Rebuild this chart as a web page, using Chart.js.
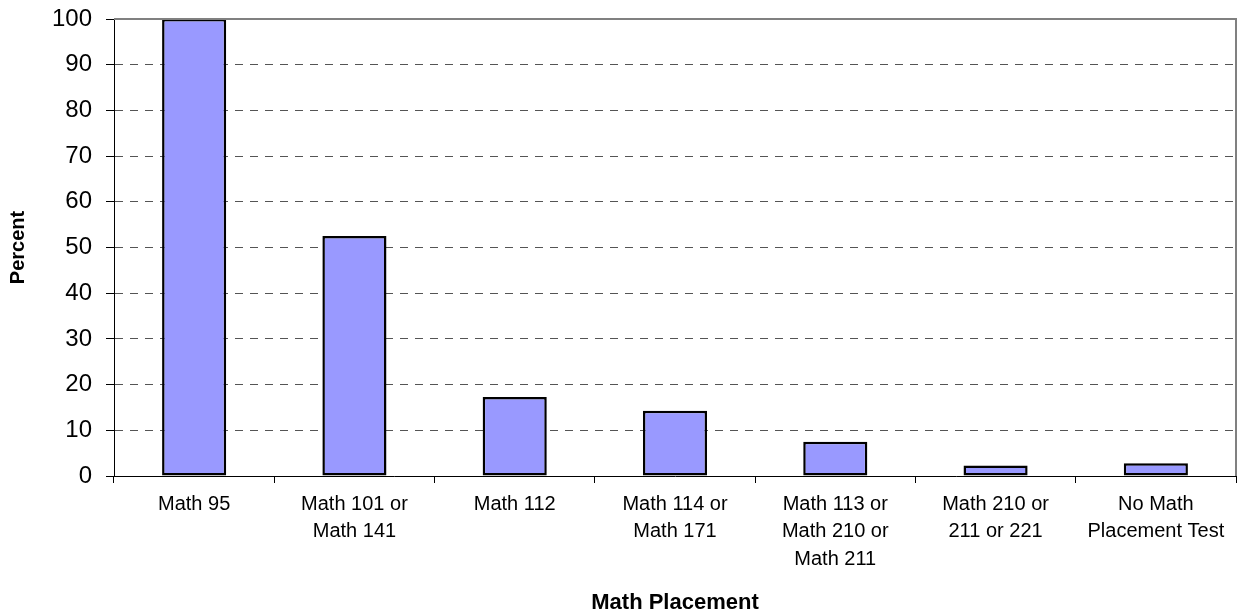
<!DOCTYPE html>
<html>
<head>
<meta charset="utf-8">
<script src="https://cdn.jsdelivr.net/npm/chart.js@4.4.1/dist/chart.umd.min.js"></script>
<style>
  html, body { margin: 0; padding: 0; background: #ffffff; }
  #wrap { width: 1243px; height: 616px; position: relative; }
</style>
</head>
<body>
<div id="wrap"><canvas id="c" width="1243" height="616"></canvas></div>
<script>
const categories = [
  ["Math 95"],
  ["Math 101 or", "Math 141"],
  ["Math 112"],
  ["Math 114 or", "Math 171"],
  ["Math 113 or", "Math 210 or", "Math 211"],
  ["Math 210 or", "211 or 221"],
  ["No Math", "Placement Test"]
];
const percentValues = [100, 52.5, 17.3, 14.3, 7.5, 2.3, 2.8];
const yTicks = [0, 10, 20, 30, 40, 50, 60, 70, 80, 90, 100];
const xTitle = "Math Placement";
const yTitle = "Percent";

const FONT = "'Liberation Sans', Arial, Helvetica, sans-serif";

const plotFrame = {
  id: 'plotFrame',
  afterDatasetsDraw(chart) {
    const { ctx, chartArea: a } = chart;
    ctx.save();
    ctx.strokeStyle = '#808080';
    ctx.lineWidth = 2;
    ctx.beginPath();
    ctx.moveTo(a.left, a.top);
    ctx.lineTo(a.right, a.top);
    ctx.lineTo(a.right, a.bottom);
    ctx.stroke();
    ctx.restore();
  }
};

new Chart(document.getElementById('c'), {
  type: 'bar',
  data: {
    labels: categories,
    datasets: [{
      data: percentValues,
      backgroundColor: '#9999FF',
      borderColor: '#000000',
      borderWidth: 2.5,
      borderSkipped: false,
      categoryPercentage: 1.0,
      barPercentage: 0.4
    }]
  },
  options: {
    responsive: false,
    animation: false,
    devicePixelRatio: 1,
    layout: { padding: { top: 19, right: 7, left: 0, bottom: 0 } },
    plugins: {
      legend: { display: false },
      tooltip: { enabled: false }
    },
    scales: {
      x: {
        offset: true,
        afterFit: (s) => { s.height = 140; s.paddingLeft = 0; s.paddingRight = 0; },
        grid: {
          display: true,
          offset: true,
          drawOnChartArea: false,
          drawTicks: true,
          tickLength: 7,
          color: '#000000',
          lineWidth: 1
        },
        border: { display: true, color: '#000000', width: 1 },
        ticks: {
          color: '#000000',
          font: { family: FONT, size: 20, lineHeight: 1.36 },
          padding: 8,
          maxRotation: 0,
          minRotation: 0,
          autoSkip: false
        },
        title: {
          display: true,
          text: xTitle,
          color: '#000000',
          font: { family: FONT, size: 22, weight: 'bold', lineHeight: 1.2 },
          padding: { top: 0, bottom: 0 }
        }
      },
      y: {
        min: 0,
        max: 100,
        afterFit: (s) => { s.width = 114; s.paddingTop = 0; s.paddingBottom = 0; },
        afterBuildTicks: (s) => { s.ticks = yTicks.map(v => ({ value: v })); },
        grid: {
          display: true,
          drawOnChartArea: true,
          drawTicks: true,
          tickLength: 8,
          tickColor: '#000000',
          tickBorderDash: [],
          lineWidth: 1,
          color: (ctx) => (ctx.tick && (ctx.tick.value === 0 || ctx.tick.value === 100)) ? 'rgba(0,0,0,0)' : '#555555'
        },
        border: { display: true, color: '#000000', width: 1, dash: [8, 7] },
        ticks: {
          color: '#000000',
          font: { family: FONT, size: 24 },
          padding: 14,
          stepSize: 10
        },
        title: {
          display: true,
          text: yTitle,
          color: '#000000',
          font: { family: FONT, size: 20, weight: 'bold', lineHeight: 1.2 },
          padding: { top: 6, bottom: 0 }
        }
      }
    }
  },
  plugins: [plotFrame]
});
</script>
</body>
</html>
